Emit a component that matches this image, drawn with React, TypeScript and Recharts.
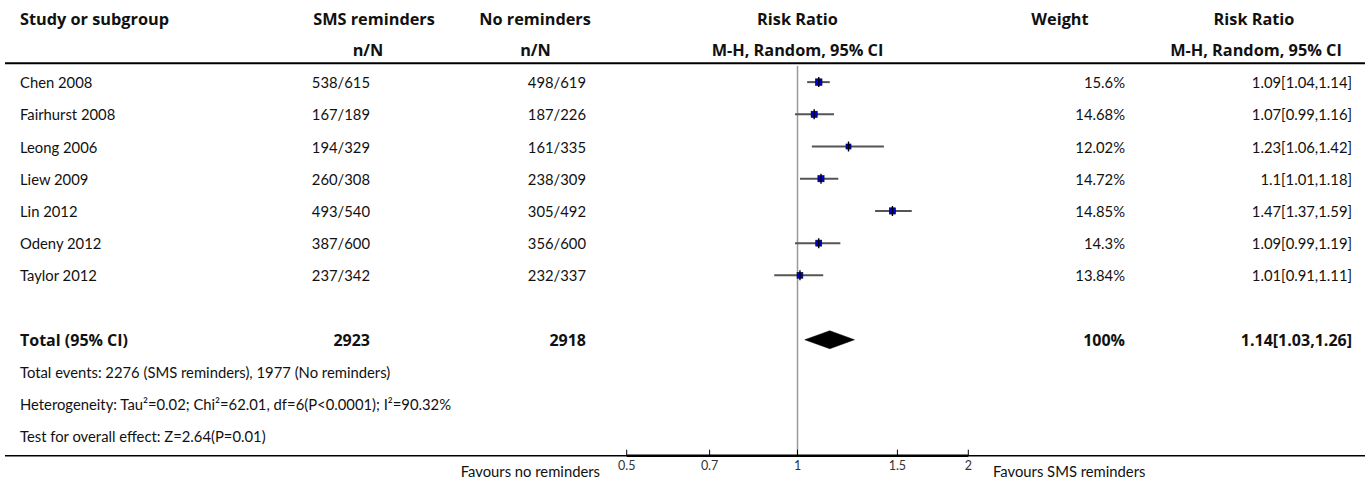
import React from 'react';
import { ComposedChart, XAxis, YAxis, Scatter, ReferenceLine } from 'recharts';

// ---------- data ----------
const studies = ['Chen 2008', 'Fairhurst 2008', 'Leong 2006', 'Liew 2009', 'Lin 2012', 'Odeny 2012', 'Taylor 2012'];
const smsEvents = [538, 167, 194, 260, 493, 387, 237];
const smsTotal = [615, 189, 329, 308, 540, 600, 342];
const noEvents = [498, 187, 161, 238, 305, 356, 232];
const noTotal = [619, 226, 335, 309, 492, 600, 337];
const weights = [15.6, 14.68, 12.02, 14.72, 14.85, 14.3, 13.84];
const riskRatio = [1.09, 1.07, 1.23, 1.1, 1.47, 1.09, 1.01];
const ciLow = [1.04, 0.99, 1.06, 1.01, 1.37, 0.99, 0.91];
const ciHigh = [1.14, 1.16, 1.42, 1.18, 1.59, 1.19, 1.11];

const totalRR = 1.14;
const totalLow = 1.03;
const totalHigh = 1.26;
const totalWeight = 100;

const heterogeneityText = 'Heterogeneity: Tau\u00b2=0.02; Chi\u00b2=62.01, df=6(P<0.0001); I\u00b2=90.32%';
const overallText = 'Test for overall effect: Z=2.64(P=0.01)';

const xTicks = [0.5, 0.7, 1, 1.5, 2];
const studyRows = [1, 2, 3, 4, 5, 6, 7];
const totalRow = 9;
const eventsRow = 10;
const hetRow = 11;
const testRow = 12;
const rowTicks = [...studyRows, totalRow, eventsRow, hetRow, testRow];

const sum = (a: number[]) => a.reduce((s, v) => s + v, 0);

// ---------- layout ----------
const W = 1370;
const H = 482;
const PLOT_LEFT = 626.7;
const PLOT_RIGHT = 968.3;
const PLOT_TOP = 66;
const PLOT_BOTTOM = 455.7;
const FONT = 'Lato, "Noto Sans", sans-serif';
const BOLD_FONT = '"Open Sans", "Noto Sans", sans-serif';
const FS = 14.8;
const BFS = 16.3;
const TXT = '#111';

const COL_NAME = 20;
const COL_SMS = 370;
const COL_NO = 586;
const COL_W = 1125;
const COL_RR = 1352;

const studyPoints = studies.map((s, i) => ({ x: riskRatio[i], y: studyRows[i], w: weights[i] }));
const diamondPoints = [
  { x: totalLow, y: totalRow },
  { x: totalRR, y: totalRow },
  { x: totalHigh, y: totalRow },
];

const rrText = (r: number, l: number, h: number) => `${r}[${l},${h}]`;

const normal = { fontFamily: FONT, fontSize: FS, fill: TXT, dominantBaseline: 'central' as const };
const bold = { fontFamily: BOLD_FONT, fontSize: BFS, fontWeight: 'bold' as const, fill: TXT, dominantBaseline: 'central' as const };
const boldRow = { ...bold, fontSize: 16 };

function RowTick(props: any) {
  const { y, payload } = props;
  const r = payload.value;
  const i = studyRows.indexOf(r);
  if (i >= 0) {
    return (
      <g>
        <text x={COL_NAME} y={y} {...normal}>{studies[i]}</text>
        <text x={COL_SMS} y={y} textAnchor="end" {...normal}>{`${smsEvents[i]}/${smsTotal[i]}`}</text>
        <text x={COL_NO} y={y} textAnchor="end" {...normal}>{`${noEvents[i]}/${noTotal[i]}`}</text>
        <text x={COL_W} y={y} textAnchor="end" {...normal}>{`${weights[i]}%`}</text>
        <text x={COL_RR} y={y} textAnchor="end" {...normal}>{rrText(riskRatio[i], ciLow[i], ciHigh[i])}</text>
      </g>
    );
  }
  if (r === totalRow) {
    return (
      <g>
        <text x={COL_NAME} y={y} {...boldRow}>Total (95% CI)</text>
        <text x={COL_SMS} y={y} textAnchor="end" {...boldRow}>{sum(smsTotal)}</text>
        <text x={COL_NO} y={y} textAnchor="end" {...boldRow}>{sum(noTotal)}</text>
        <text x={COL_W} y={y} textAnchor="end" {...boldRow}>{`${totalWeight}%`}</text>
        <text x={COL_RR} y={y} textAnchor="end" {...boldRow}>{rrText(totalRR, totalLow, totalHigh)}</text>
      </g>
    );
  }
  if (r === eventsRow) {
    return (
      <text x={COL_NAME} y={y} {...normal}>
        {`Total events: ${sum(smsEvents)} (SMS reminders), ${sum(noEvents)} (No reminders)`}
      </text>
    );
  }
  if (r === hetRow) {
    return <text x={COL_NAME} y={y} {...normal}>{heterogeneityText}</text>;
  }
  if (r === testRow) {
    return <text x={COL_NAME} y={y} {...normal}>{overallText}</text>;
  }
  return <g />;
}

function XTick(props: any) {
  const { x, y, payload } = props;
  return (
    <g>
      <line x1={x} x2={x} y1={y - 6} y2={y} stroke="#000" strokeWidth={1} />
      <text x={x} y={y + 10} textAnchor="middle" dominantBaseline="central" fontFamily={FONT} fontSize={12.5} fill="#333">
        {payload.value}
      </text>
    </g>
  );
}

function StudyMarker(props: any) {
  const { cx, cy, payload } = props;
  const s = payload.w * 0.42;
  return (
    <g>
      <rect x={cx - s / 2} y={cy - s / 2} width={s} height={s} fill="#0000cc" stroke="#000022" strokeWidth={0.6} />
      <line x1={cx} x2={cx} y1={cy - 5} y2={cy + 5} stroke="#000" strokeWidth={1.4} />
    </g>
  );
}

function Diamond(props: any) {
  const pts = props.points || [];
  if (pts.length < 3) return <g />;
  const [a, b, c] = pts;
  const h = 9;
  const d = `M${a.x},${a.y} L${b.x},${b.y - h} L${c.x},${c.y} L${b.x},${b.y + h} Z`;
  return <path d={d} fill="#000" stroke="#000" strokeWidth={0.5} />;
}

export default function App() {
  return (
    <div style={{ position: 'absolute', left: 0, top: 0, width: W, height: H, background: '#fff' }}>
      <ComposedChart
        width={W}
        height={H}
        margin={{ top: PLOT_TOP, right: W - PLOT_RIGHT, bottom: 0, left: 0 }}
      >
        <XAxis
          type="number"
          dataKey="x"
          scale="log"
          domain={[0.5, 2]}
          ticks={xTicks}
          interval={0}
          allowDataOverflow
          height={H - PLOT_BOTTOM}
          axisLine={{ stroke: '#000', strokeWidth: 2.5 }}
          tickLine={false}
          tickSize={0}
          tickMargin={0}
          tick={<XTick />}
        />
        <YAxis
          type="number"
          dataKey="y"
          domain={[0.5, 12.6]}
          reversed
          allowDataOverflow
          ticks={rowTicks}
          interval={0}
          width={PLOT_LEFT}
          axisLine={false}
          tickLine={false}
          tick={<RowTick />}
        />
        <ReferenceLine x={1} stroke="#9a9a9a" strokeWidth={1.5} />
        {studies.map((s, i) => (
          <ReferenceLine
            key={s}
            segment={[
              { x: ciLow[i], y: studyRows[i] },
              { x: ciHigh[i], y: studyRows[i] },
            ]}
            stroke="#555"
            strokeWidth={2}
          />
        ))}
        <Scatter data={studyPoints} shape={<StudyMarker />} isAnimationActive={false} />
        <Scatter
          data={diamondPoints}
          shape={() => <g />}
          line={Diamond as any}
          lineType="joint"
          isAnimationActive={false}
        />
      </ComposedChart>
      <svg width={W} height={H} style={{ position: 'absolute', left: 0, top: 0, pointerEvents: 'none' }}>
        <text x={20} y={19} {...bold}>Study or subgroup</text>
        <text x={374} y={19} textAnchor="middle" {...bold}>SMS reminders</text>
        <text x={368} y={50} textAnchor="middle" {...bold}>n/N</text>
        <text x={535} y={19} textAnchor="middle" {...bold}>No reminders</text>
        <text x={535.5} y={50} textAnchor="middle" {...bold}>n/N</text>
        <text x={797.5} y={19} textAnchor="middle" {...bold}>Risk Ratio</text>
        <text x={797.5} y={50} textAnchor="middle" {...bold}>M-H, Random, 95% CI</text>
        <text x={1060} y={19} textAnchor="middle" {...bold}>Weight</text>
        <text x={1254} y={19} textAnchor="middle" {...bold}>Risk Ratio</text>
        <text x={1256} y={50} textAnchor="middle" {...bold}>M-H, Random, 95% CI</text>
        <line x1={5} x2={1365} y1={63.3} y2={63.3} stroke="#000" strokeWidth={2} />
        <line x1={5} x2={1365} y1={455.7} y2={455.7} stroke="#000" strokeWidth={1.5} />
        <text x={600} y={471} textAnchor="end" {...normal}>Favours no reminders</text>
        <text x={993} y={471} {...normal}>Favours SMS reminders</text>
      </svg>
    </div>
  );
}
